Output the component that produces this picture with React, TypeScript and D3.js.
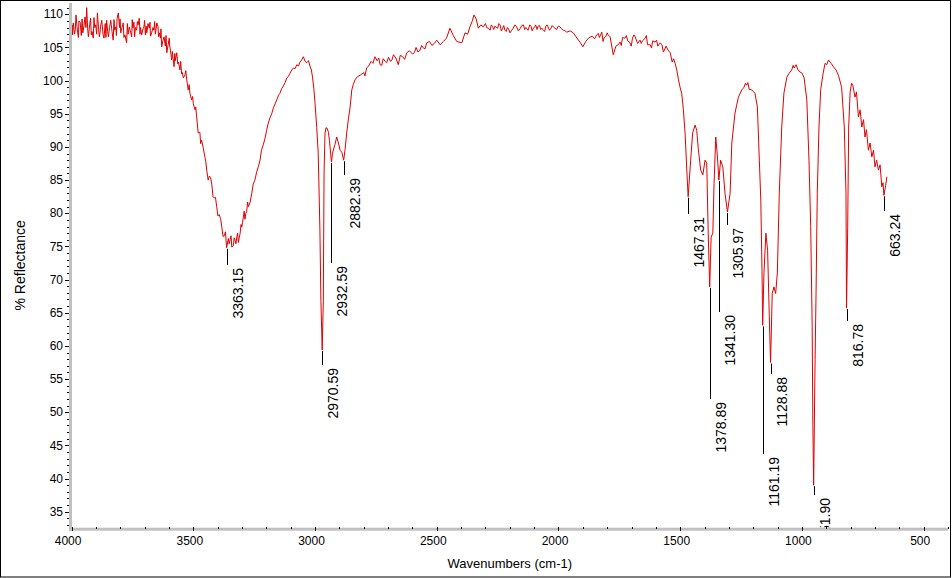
import React from 'react';
import * as d3 from 'd3';

type Pt = [number, number];

// [wavenumber (cm-1), % reflectance]
const plateau: Pt[] = [
  [4000, 107.2], [3996, 106.9], [3993, 108.7], [3988, 107.0], [3982, 109.9], [3978, 108.2], [3975, 107.2],
  [3970, 109.0], [3965, 108.8], [3960, 106.8], [3954, 107.2], [3949, 108.3], [3945, 109.6], [3938, 111.0],
  [3934, 107.8], [3931, 106.6], [3926, 108.4], [3922, 109.4], [3916, 107.4], [3911, 106.4], [3905, 108.0],
  [3901, 108.4], [3897, 107.0], [3894, 110.2], [3890, 108.2], [3886, 106.6], [3881, 108.2], [3876, 109.1],
  [3871, 107.0], [3867, 106.4], [3862, 108.6], [3856, 109.1], [3852, 107.4], [3849, 106.6], [3844, 108.0],
  [3839, 109.1], [3834, 107.4], [3829, 106.1], [3823, 107.6], [3818, 108.1], [3813, 109.4], [3808, 110.2],
  [3803, 108.0], [3798, 107.2], [3793, 108.0], [3788, 108.7], [3781, 106.9], [3774, 105.7], [3768, 107.0],
  [3763, 108.1], [3758, 107.3], [3753, 106.6], [3748, 107.9], [3744, 108.8], [3738, 108.0], [3733, 107.6],
  [3727, 108.4], [3722, 109.4], [3717, 108.0], [3712, 106.9], [3707, 107.8], [3703, 108.1], [3697, 106.9],
  [3691, 107.2], [3686, 108.6], [3681, 107.9], [3676, 106.7], [3671, 107.2], [3666, 108.0], [3662, 107.6],
  [3656, 107.0], [3650, 108.7], [3645, 108.1], [3640, 107.2], [3635, 106.4], [3630, 105.1], [3625, 106.0],
  [3620, 106.6], [3615, 105.2], [3609, 104.2], [3604, 105.3], [3599, 106.4], [3594, 104.6], [3589, 103.1],
  [3584, 103.6], [3579, 102.1], [3574, 103.0], [3568, 104.2], [3561, 102.8], [3555, 101.6], [3548, 101.0],
  [3541, 100.4], [3534, 100.9], [3527, 100.1], [3521, 98.6], [3514, 98.1], [3507, 97.1], [3500, 96.5],
  [3493, 95.6], [3487, 94.8], [3480, 92.1], [3473, 92.2],
  [3998, 108.4], [3985, 107.6], [3972, 106.5], [3957, 109.3], [3941, 108.0], [3919, 106.9], [3908, 109.5],
  [3883, 107.3], [3859, 106.5], [3837, 108.4], [3826, 109.2], [3816, 106.8], [3801, 109.3], [3785, 106.5],
  [3771, 108.6], [3751, 109.2], [3741, 106.6], [3730, 108.9], [3719, 107.0], [3700, 109.1], [3694, 108.2],
  [3678, 108.8], [3659, 108.9], [3643, 106.6], [3633, 107.8], [3612, 106.8], [3597, 105.2], [3586, 104.4],
  [3576, 104.1], [3564, 102.5], [3552, 102.9], [3545, 101.2], [3531, 101.5], [3517, 99.4], [3503, 97.6],
  [3490, 96.0],
];

const ohBand: Pt[] = [
  [3466, 91.0], [3459, 89.8], [3452, 88.4], [3445, 86.5], [3434, 85.6], [3424, 84.3], [3414, 82.3],
  [3404, 81.0], [3394, 79.8], [3383, 77.9], [3373, 76.6], [3363.15, 74.8], [3356, 76.2], [3349, 76.0],
  [3342, 74.9], [3336, 75.1], [3329, 76.0], [3322, 76.3], [3315, 75.6], [3308, 76.9], [3301, 77.9],
  [3295, 79.3], [3288, 79.1], [3281, 80.2], [3274, 81.0], [3267, 81.6], [3260, 83.0], [3254, 84.4],
  [3247, 85.0], [3240, 86.2], [3233, 87.0], [3226, 88.0], [3220, 89.5], [3213, 90.3], [3206, 91.2],
  [3199, 92.5], [3192, 93.6], [3185, 94.4], [3178, 95.0], [3171, 95.9], [3164, 96.5], [3157, 97.1],
  [3150, 97.8], [3144, 98.1], [3137, 98.8], [3130, 99.2], [3123, 99.7], [3116, 100.4], [3110, 100.6],
  [3103, 101.1], [3096, 101.6], [3089, 101.9], [3082, 101.8], [3075, 102.4], [3068, 102.2], [3062, 102.8],
  [3055, 103.1], [3048, 103.6], [3041, 102.9], [3034, 102.7], [3027, 103.0], [3021, 102.2], [3015, 101.6],
  [3010, 100.4], [3005, 98.8], [3000, 96.6],
  [3470, 90.5], [3449, 87.8], [3439, 85.0], [3429, 85.4], [3419, 82.5], [3409, 82.4], [3399, 79.6],
  [3388, 79.2], [3378, 76.5], [3368, 77.2], [3353, 75.4], [3345, 76.6], [3332, 76.3], [3325, 75.4],
  [3318, 77.0], [3311, 76.4], [3304, 78.3], [3298, 78.6], [3291, 80.3], [3284, 80.0], [3277, 81.7],
];

const chRegion: Pt[] = [
  [2993, 92.9], [2987, 89.1], [2980, 77.5], [2976, 66.9], [2970.59, 59.4], [2966, 66.9], [2963, 86.1],
  [2959, 92.1], [2955, 92.9], [2950, 92.8], [2945, 92.2], [2941, 91.0], [2932.59, 87.7], [2929, 88.8],
  [2925, 89.5], [2918, 90.4], [2911, 91.5], [2904, 90.6], [2897, 89.5], [2890, 89.2], [2882.39, 88.0],
  [2877, 89.5], [2870, 92.1], [2863, 94.2], [2856, 96.0], [2849, 98.6], [2843, 99.4], [2836, 100.1],
  [2826, 100.6], [2815, 100.8], [2800, 101.2], [2788, 101.9], [2770, 102.9], [2754, 103.6], [2745, 103.0],
  [2733, 102.4], [2720, 103.3], [2706, 102.7], [2690, 102.9], [2678, 103.9], [2668, 103.4], [2658, 102.4],
  [2640, 103.6], [2623, 104.2], [2600, 104.0], [2585, 105.0], [2569, 104.6], [2555, 104.9], [2541, 105.7],
  [2520, 105.3], [2500, 106.1],
  [2795, 100.7], [2780, 102.2], [2762, 102.6], [2738, 103.4], [2726, 102.3], [2712, 102.9], [2698, 103.5],
  [2684, 103.1], [2650, 103.8], [2632, 103.2], [2612, 104.5], [2592, 104.2], [2577, 104.3], [2562, 105.3],
  [2548, 104.8], [2530, 105.9], [2510, 105.6],
];

const midPlateau: Pt[] = [
  [2486, 105.4], [2473, 105.9], [2460, 106.4], [2446, 107.9], [2432, 106.8], [2418, 105.9], [2397, 105.7],
  [2384, 107.2], [2373, 107.0], [2363, 108.2], [2355, 108.9], [2347, 109.9], [2339, 109.4], [2329, 107.9],
  [2319, 108.4], [2309, 108.1], [2295, 108.0], [2281, 107.6], [2271, 108.2], [2261, 108.2], [2250, 107.9],
  [2240, 108.4], [2230, 107.8], [2220, 107.6], [2210, 108.0], [2199, 107.2], [2186, 107.9], [2172, 108.1],
  [2158, 107.8], [2144, 108.4], [2134, 108.0], [2125, 107.6], [2113, 108.2], [2103, 107.9], [2094, 108.4],
  [2084, 108.2], [2073, 107.7], [2062, 107.6], [2052, 108.2], [2043, 108.1], [2032, 107.8], [2021, 108.1],
  [2008, 107.7], [1994, 108.1], [1980, 107.6], [1966, 107.3], [1952, 107.5], [1939, 107.2], [1928, 106.6],
  [1918, 106.1], [1908, 105.6], [1900, 105.1], [1888, 105.9], [1877, 106.4], [1862, 106.7], [1852, 106.3],
  [1843, 106.9], [1832, 106.5], [1822, 107.3], [1813, 106.4], [1805, 106.7], [1796, 106.9], [1788, 106.6],
  [1775, 103.9], [1764, 105.2], [1755, 105.4], [1747, 105.8], [1737, 106.5], [1727, 106.4], [1716, 106.0],
  [1706, 105.7], [1696, 106.4], [1685, 106.6], [1675, 105.6], [1665, 106.1], [1655, 106.0], [1644, 106.4],
  [1634, 105.4], [1623, 105.4], [1613, 106.0], [1603, 105.8], [1592, 105.2], [1582, 105.7], [1575, 105.4],
  [1569, 104.3], [1558, 105.2], [1550, 104.6], [1541, 104.2], [1533, 102.8], [1527, 103.3], [1521, 102.6],
  [1514, 101.6], [1507, 100.1], [1500, 98.9],
  [2300, 108.6], [2288, 107.9], [2276, 108.4], [2266, 107.7], [2245, 108.6], [2235, 107.5], [2225, 108.3],
  [2215, 107.4], [2205, 107.8], [2192, 107.6], [2179, 108.4], [2165, 107.5], [2151, 108.3], [2139, 107.7],
  [2118, 108.4], [2108, 107.5], [2098, 108.1], [2088, 107.7], [2078, 108.3], [2068, 107.9], [2057, 107.4],
  [2047, 108.4], [2037, 107.6], [2026, 108.3], [2015, 107.9], [2001, 108.2], [1987, 107.8], [1973, 107.5],
  [1836, 107.1], [1817, 105.9], [1800, 107.2], [1742, 105.3], [1721, 106.8], [1701, 105.2], [1690, 106.9],
  [1660, 105.6], [1639, 106.8], [1618, 104.9], [1597, 106.1],
];

const fingerprint: Pt[] = [
  [1494, 98.1], [1487, 95.6], [1480, 92.1], [1473, 86.5], [1467.31, 82.5], [1457, 88.0], [1449, 92.1],
  [1439, 93.3], [1432, 92.5], [1426, 89.8], [1416, 86.5], [1407, 85.8], [1398, 88.0], [1391, 87.6],
  [1385, 77.0], [1378.89, 68.9], [1373, 76.4], [1366, 77.0], [1361, 84.5], [1354, 91.5], [1347, 88.5],
  [1341.3, 85.0], [1334, 88.0], [1325, 87.0], [1316, 83.0], [1305.97, 80.2], [1295, 83.0], [1288, 90.6],
  [1275, 95.1], [1261, 97.5], [1247, 98.6], [1238, 99.0], [1232, 99.6], [1227, 99.3], [1222, 99.7],
  [1217, 98.7], [1206, 98.6], [1193, 98.1], [1183, 96.0], [1175, 88.0], [1169, 82.0], [1164, 71.4],
  [1161.19, 63.1], [1156, 71.0], [1148, 77.0], [1141, 74.4], [1134, 64.4], [1128.88, 57.5], [1122, 67.9],
  [1115, 68.9], [1108, 67.9], [1101, 71.0], [1093, 83.0], [1083, 93.0], [1074, 98.1], [1062, 100.5],
  [1053, 101.1], [1042, 101.6], [1036, 102.3], [1032, 101.9], [1024, 102.4], [1016, 101.6], [1008, 101.3],
  [999, 101.1], [991, 100.4], [980, 97.1], [971, 88.0], [964, 78.0], [958, 62.9], [955, 48.0],
  [951.9, 39.0], [946, 57.9], [942, 68.0], [937, 83.0], [930, 93.0], [923, 98.6], [913, 101.1], [905, 102.6],
  [898, 102.4], [891, 103.1], [885, 102.8], [880, 102.6], [871, 102.1], [860, 101.6], [850, 100.8],
  [837, 99.0], [826, 93.0], [819, 83.0], [816.78, 65.7], [812, 77.9], [808, 93.0], [802, 98.3], [796, 99.6],
  [791, 99.3], [782, 97.5], [776, 98.3], [768, 94.5], [761, 95.6], [754, 93.0], [747, 94.1], [741, 91.5],
  [735, 92.6], [727, 89.5], [720, 90.6], [713, 88.5], [706, 89.5], [700, 87.0], [693, 88.0], [686, 86.5],
  [679, 87.3], [672, 84.0], [667, 84.6], [663.24, 82.7], [656, 84.2], [651, 85.5],
];

const peakLabels = ['3363.15', '2970.59', '2932.59', '2882.39', '1467.31', '1378.89', '1341.30', '1305.97',
  '1161.19', '1128.88', '951.90', '816.78', '663.24'];

const yTicks = [35, 40, 45, 50, 55, 60, 65, 70, 75, 80, 85, 90, 95, 100, 105, 110];
const xTicks = [4000, 3500, 3000, 2500, 2000, 1500, 1000, 500];

// where each label's text begins (px, top end of rotated text)
const labelTextTop = [268, 368, 266, 178, 217, 402, 315, 228, 457, 377, 498, 324, 214];

const FONT = '"Liberation Sans", Arial, sans-serif';

export default function App() {
  const W = 952;
  const H = 578;
  const left = 71.6;
  const right = 948;
  const top = 3;
  const bottom = 527.7;

  const x = d3.scaleLinear().domain([4000, 400]).range([left, right]);
  const y = d3.scaleLinear().domain([32.59, 111.7]).range([bottom, top]);

  const spectrum = d3.sort(
    [...plateau, ...ohBand, ...chRegion, ...midPlateau, ...fingerprint],
    (a, b) => b[0] - a[0]
  );
  const line = d3.line<Pt>().x(d => x(d[0])).y(d => y(d[1]));

  const minorY = d3.range(33, 112, 1).filter(v => v % 5 !== 0);
  const minorX = d3.range(4000, 399, -100).filter(v => v % 500 !== 0);

  const labels = peakLabels.map((t, i) => {
    const w = parseFloat(t);
    const near = spectrum.filter(d => Math.abs(d[0] - w) <= 6);
    const v = d3.min(near, d => d[1]) ?? 100;
    return { t, lx: Math.round(x(w)) + 0.5, y0: y(v) + 1, y1: labelTextTop[i] - 3, ty: labelTextTop[i] };
  });

  return (
    <div style={{ position: 'absolute', left: 0, top: 0 }}>
      <svg width={W} height={H} style={{ display: 'block', background: '#fff' }}>
        <defs>
          <clipPath id="plot">
            <rect x={72} y={top} width={right - 72} height={bottom - top - 0.5} />
          </clipPath>
        </defs>
        <rect x={0.5} y={0.5} width={W - 2} height={H - 1.5} fill="#fff" stroke="#000" />

        <g clipPath="url(#plot)">
          <path d={line(spectrum) ?? ''} fill="none" stroke="#e00000" strokeWidth={1} />
          {labels.map(l => (
            <g key={l.t}>
              <line x1={l.lx} x2={l.lx} y1={l.y0} y2={l.y1} stroke="#000" strokeWidth={1} />
              <text
                transform={`translate(${l.lx + 15},${l.ty}) rotate(-90)`}
                textAnchor="end"
                fontFamily={FONT}
                fontSize={14}
                fill="#000"
              >
                {l.t}
              </text>
            </g>
          ))}
        </g>

        {/* axes bands */}
        <rect x={69} y={top} width={3} height={bottom - top + 3} fill="#c0c0c0" />
        <rect x={69} y={bottom} width={right - 69} height={3} fill="#c0c0c0" />

        {yTicks.map(v => (
          <g key={'y' + v}>
            <line x1={65} x2={69} y1={Math.round(y(v)) + 0.5} y2={Math.round(y(v)) + 0.5} stroke="#000" />
            <text x={63} y={y(v)} dy="0.35em" textAnchor="end" fontFamily={FONT} fontSize={12} fill="#000">
              {v}
            </text>
          </g>
        ))}
        {minorY.map(v => (
          <line key={'my' + v} x1={67} x2={69} y1={Math.round(y(v)) + 0.5} y2={Math.round(y(v)) + 0.5} stroke="#000" />
        ))}

        {xTicks.map(v => (
          <g key={'x' + v}>
            <line x1={Math.round(x(v)) + 0.5} x2={Math.round(x(v)) + 0.5} y1={527} y2={531} stroke="#000" />
            <text x={x(v) - 3.5} y={544.5} textAnchor="middle" fontFamily={FONT} fontSize={12} fill="#000">
              {v}
            </text>
          </g>
        ))}
        {minorX.map(v => (
          <line key={'mx' + v} x1={Math.round(x(v)) + 0.5} x2={Math.round(x(v)) + 0.5} y1={527} y2={529} stroke="#000" />
        ))}

        <text x={(left + right) / 2} y={568} textAnchor="middle" fontFamily={FONT} fontSize={13} fill="#000">
          Wavenumbers (cm-1)
        </text>
        <text
          transform={`translate(25,${(top + bottom) / 2}) rotate(-90)`}
          textAnchor="middle"
          fontFamily={FONT}
          fontSize={14}
          fill="#000"
        >
          % Reflectance
        </text>
      </svg>
    </div>
  );
}
